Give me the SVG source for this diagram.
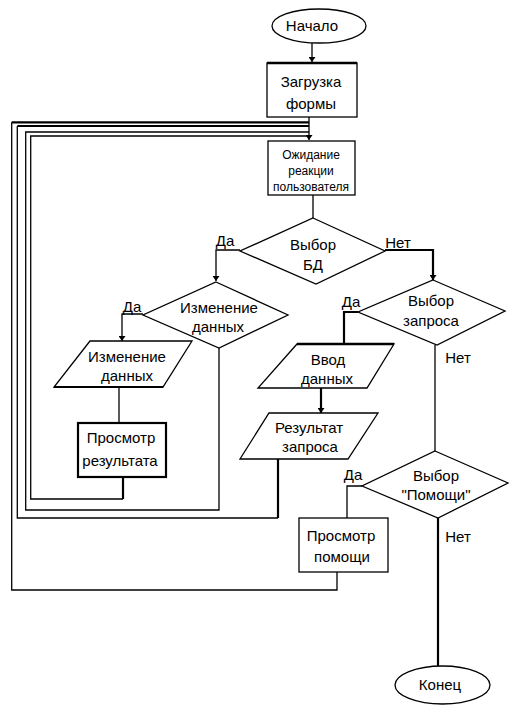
<svg xmlns="http://www.w3.org/2000/svg" width="514" height="711" viewBox="0 0 514 711">
<style>
.s{fill:#fff;stroke:#000;stroke-width:1.3}
.k{stroke-width:2.2}
.t{font-family:"Liberation Sans",Arial,sans-serif;font-size:15px;fill:#000;text-anchor:middle}
.sm{font-size:12px}
.c{fill:none;stroke:#000;stroke-width:1.3}
.ck{fill:none;stroke:#000;stroke-width:2.2}
</style>
<defs>
<marker id="d" markerWidth="7" markerHeight="6" refX="3.5" refY="6" orient="0" markerUnits="userSpaceOnUse" viewBox="0 0 7 6">
<path d="M0,1 L7,1 L3.5,6 Z" fill="#000"/>
</marker>
</defs>
<g id="connectors">
<path class="c" d="M312,43 V62" marker-end="url(#d)"/>
<path class="c" d="M309,117 V140" marker-end="url(#d)"/>
<path class="c" d="M313,195 V218"/>
<path class="c" d="M240,250 H216 V281" marker-end="url(#d)"/>
<path class="ck" d="M385,250 H433 V280" marker-end="url(#d)"/>
<path class="c" d="M143,314 H122 V341" marker-end="url(#d)"/>
<path class="c" d="M119,387 V423"/>
<path class="ck" d="M358,312 H344 V344"/>
<path class="ck" d="M321,388 V413" marker-end="url(#d)"/>
<path class="c" d="M435,345 V451"/>
<path class="c" d="M362,486 H347 V518"/>
<path class="ck" d="M438,518 V666"/>
<path class="ck" d="M123,477 V499"/>
<path class="c" d="M123,499 H30.7 V136 H309"/>
<path class="c" d="M219,348 V510 H25.7 V132 H309"/>
<path class="ck" d="M278,459 V518"/>
<path class="c" d="M278,518 H17.3 V126"/>
<path class="ck" d="M17.3,126 H309"/>
<path class="c" d="M337,572 V590 H11.7 V122.3"/>
<path class="ck" d="M11.7,122.3 H309"/>
</g>
<g id="start">
<ellipse class="s" cx="319" cy="26" rx="47" ry="17"/>
<text class="t" x="312" y="31">Начало</text>
</g>
<g id="load">
<rect class="s" x="267" y="63" width="90" height="54"/>
<path d="M267,63 H357" stroke="#000" stroke-width="2.5"/>
<text class="t" x="311" y="87">Загрузка</text>
<text class="t" x="311" y="109">формы</text>
</g>
<g id="wait">
<rect class="s" x="268" y="141" width="87" height="54"/>
<text class="t sm" x="311" y="159">Ожидание</text>
<text class="t sm" x="311" y="175">реакции</text>
<text class="t sm" x="311" y="191">пользователя</text>
</g>
<g id="choose-db">
<polygon class="s" points="313,218 385,251 316,284 240,251"/>
<text class="t" x="313" y="250">Выбор</text>
<text class="t" x="313" y="270">БД</text>
</g>
<g id="edit-decision">
<polygon class="s" points="216,282 288,315 219,348 143,315"/>
<text class="t" x="219" y="313">Изменение</text>
<text class="t" x="218" y="332">данных</text>
</g>
<g id="edit-data">
<polygon class="s" points="90,341 192,341 163,387 54,387"/>
<path d="M54,387 H163" stroke="#000" stroke-width="2.2"/>
<text class="t" x="127" y="362">Изменение</text>
<text class="t" x="127" y="381">данных</text>
</g>
<g id="view-result">
<rect class="s k" x="78" y="423" width="88" height="54"/>
<text class="t" x="121" y="443">Просмотр</text>
<text class="t" x="120" y="466">результата</text>
</g>
<g id="choose-query">
<polygon class="s" points="433,280 505,311 437,345 358,312"/>
<text class="t" x="431" y="306">Выбор</text>
<text class="t" x="431" y="326">запроса</text>
</g>
<g id="input-data">
<polygon class="s" points="297,344 394,344 367,388 258,388"/>
<path d="M297,344 H394" stroke="#000" stroke-width="2.5"/>
<text class="t" x="328" y="365">Ввод</text>
<text class="t" x="327" y="384">данных</text>
</g>
<g id="query-result">
<polygon class="s" points="269,413 378,413 348,459 240,459"/>
<text class="t" x="309" y="433">Результат</text>
<text class="t" x="310" y="452">запроса</text>
</g>
<g id="choose-help">
<polygon class="s" points="435,451 508,483 438,518 362,486"/>
<text class="t" x="436" y="481">Выбор</text>
<text class="t" x="436" y="500">"Помощи"</text>
</g>
<g id="view-help">
<rect class="s" x="299" y="518" width="89" height="54"/>
<text class="t" x="341" y="541">Просмотр</text>
<text class="t" x="342" y="562">помощи</text>
</g>
<g id="end">
<ellipse class="s" cx="442.5" cy="685" rx="47.5" ry="19"/>
<text class="t" x="440" y="690">Конец</text>
</g>
<g id="labels">
<text class="t" x="225" y="246">Да</text>
<text class="t" x="398" y="248">Нет</text>
<text class="t" x="132" y="312">Да</text>
<text class="t" x="351" y="307">Да</text>
<text class="t" x="458" y="363">Нет</text>
<text class="t" x="353" y="480">Да</text>
<text class="t" x="458" y="542">Нет</text>
</g>
</svg>
